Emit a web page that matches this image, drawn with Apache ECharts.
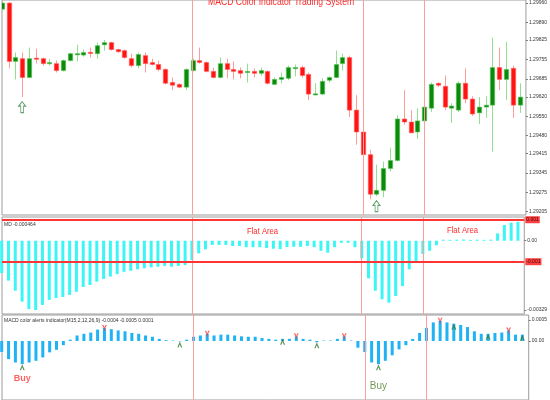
<!DOCTYPE html>
<html><head><meta charset="utf-8">
<script src="https://cdn.jsdelivr.net/npm/echarts@6/dist/echarts.min.js"></script>
<style>html,body{margin:0;padding:0;background:#fff}#c{width:550px;height:400px}</style>
</head><body><div id="c"></div>
<script>
// ---- Data (77 bars) ----
const opens = [1.29937,1.29959,1.29748,1.29758,1.29690,1.29760,1.29758,1.29740,1.29740,1.29715,
1.29751,1.29773,1.29771,1.29781,1.29776,1.29808,1.29816,1.29791,1.29787,1.29758,
1.29733,1.29769,1.29744,1.29737,1.29719,1.29672,1.29665,1.29655,1.29715,1.29751,
1.29744,1.29712,1.29690,1.29740,1.29719,1.29715,1.29708,1.29712,1.29705,1.29712,
1.29665,1.29683,1.29687,1.29723,1.29726,1.29701,1.29628,1.29630,1.29680,1.29690,
1.29740,1.29762,1.29572,1.29493,1.29411,1.29268,1.29282,1.29361,1.29390,1.29540,
1.29529,1.29493,1.29533,1.29579,1.29669,1.29658,1.29579,1.29572,1.29669,1.29612,
1.29562,1.29583,1.29590,1.29726,1.29683,1.29723,1.29590];
const closes = [1.29959,1.29748,1.29762,1.29690,1.29758,1.29757,1.29740,1.29744,1.29715,1.29751,
1.29776,1.29776,1.29780,1.29777,1.29805,1.29816,1.29791,1.29783,1.29762,1.29733,
1.29773,1.29740,1.29737,1.29719,1.29669,1.29662,1.29655,1.29719,1.29751,1.29744,
1.29712,1.29690,1.29740,1.29719,1.29712,1.29705,1.29712,1.29705,1.29715,1.29669,
1.29683,1.29690,1.29726,1.29726,1.29697,1.29630,1.29631,1.29676,1.29690,1.29737,
1.29762,1.29572,1.29493,1.29411,1.29268,1.29282,1.29361,1.29390,1.29540,1.29529,
1.29490,1.29533,1.29583,1.29665,1.29662,1.29583,1.29587,1.29669,1.29612,1.29558,
1.29583,1.29590,1.29726,1.29683,1.29719,1.29590,1.29619];
const highs = [1.29966,1.29962,1.29780,1.29780,1.29798,1.29794,1.29762,1.29758,1.29751,1.29755,
1.29780,1.29808,1.29791,1.29798,1.29816,1.29826,1.29819,1.29794,1.29791,1.29776,
1.29780,1.29780,1.29758,1.29751,1.29723,1.29690,1.29669,1.29723,1.29758,1.29798,
1.29748,1.29726,1.29762,1.29758,1.29748,1.29726,1.29740,1.29723,1.29726,1.29715,
1.29690,1.29708,1.29733,1.29737,1.29733,1.29708,1.29669,1.29687,1.29694,1.29787,
1.29776,1.29769,1.29626,1.29508,1.29429,1.29375,1.29386,1.29436,1.29554,1.29644,
1.29572,1.29579,1.29608,1.29672,1.29672,1.29697,1.29597,1.29676,1.29723,1.29622,
1.29619,1.29622,1.29834,1.29798,1.29819,1.29733,1.29669];
const lows = [1.29930,1.29723,1.29683,1.29619,1.29687,1.29740,1.29733,1.29733,1.29708,1.29712,
1.29748,1.29748,1.29765,1.29762,1.29758,1.29787,1.29787,1.29780,1.29758,1.29726,
1.29723,1.29708,1.29733,1.29712,1.29665,1.29644,1.29651,1.29644,1.29712,1.29740,
1.29708,1.29687,1.29687,1.29687,1.29683,1.29687,1.29672,1.29690,1.29697,1.29665,
1.29662,1.29669,1.29680,1.29694,1.29690,1.29608,1.29626,1.29626,1.29672,1.29687,
1.29715,1.29547,1.29447,1.29400,1.29250,1.29261,1.29257,1.29350,1.29386,1.29519,
1.29490,1.29468,1.29529,1.29565,1.29655,1.29572,1.29526,1.29565,1.29597,1.29551,
1.29522,1.29544,1.29422,1.29644,1.29608,1.29544,1.29562];
// MACD histogram panel (middle)
const mdValues = [-0.00154,-0.00190,-0.00238,-0.00290,-0.00325,-0.00330,-0.00306,-0.00282,-0.00273,-0.00268,
-0.00258,-0.00243,-0.00220,-0.00211,-0.00195,-0.00182,-0.00171,-0.00159,-0.00148,-0.00143,
-0.00136,-0.00131,-0.00127,-0.00124,-0.00120,-0.00124,-0.00120,-0.00116,-0.00092,-0.00060,
-0.00041,-0.00020,-0.00020,-0.00020,-0.00025,-0.00025,-0.00031,-0.00031,-0.00031,-0.00035,
-0.00038,-0.00040,-0.00030,-0.00029,-0.00029,-0.00025,-0.00031,-0.00048,-0.00057,-0.00031,
-0.00010,-0.00010,-0.00031,-0.00084,-0.00179,-0.00238,-0.00279,-0.00295,-0.00263,-0.00216,
-0.00136,-0.00105,-0.00063,-0.00048,-0.00022,0.00005,0.00004,0.00005,0.00006,0.00004,
0.00005,0.00004,0.00005,0.00035,0.00075,0.00086,0.00090];
// MACD color alerts panel (bottom)
const alertValues = [-0.00026,-0.00043,-0.00051,-0.00055,-0.00051,-0.00047,-0.00039,-0.00027,-0.00021,-0.00010,
0.00003,0.00013,0.00017,0.00020,0.00027,0.00031,0.00028,0.00025,0.00023,0.00019,
0.00017,0.00013,0.00010,0.00005,0.00002,0.00001,-0.00001,0.00003,0.00010,0.00013,
0.00017,0.00013,0.00015,0.00015,0.00013,0.00011,0.00010,0.00010,0.00007,0.00005,
0.00003,0.00005,0.00005,0.00011,0.00005,0.00003,-0.00003,0.00001,0.00001,0.00005,
0.00011,0.00001,-0.00016,-0.00026,-0.00051,-0.00055,-0.00047,-0.00034,-0.00020,-0.00010,
0.00005,0.00019,0.00031,0.00044,0.00048,0.00044,0.00041,0.00038,0.00033,0.00023,
0.00017,0.00017,0.00019,0.00020,0.00025,0.00015,0.00015];
const buyAlerts = [3,26,41,46,55,66,71,76];
const sellAlerts = [15,30,43,50,64,74];
const buyArrowBars = [3,55];
const buyTextBars = [3,55];
const signalBars = [28,53,62];
const mdLevels = [0.001,-0.001];
const mdLevelLabels = ['0.001','-0.001'];
const priceTicks = [1.29960,1.29890,1.29825,1.29755,1.29685,1.29620,1.29550,1.29480,1.29415,1.29345,1.29275,1.29205];
const mdTicks = [0, -0.00329];
const mdTickLabels = ['0.00','-0.00329'];
const alertTicks = [0.0005, 0];
const alertTickLabels = ['0.0005','00.00'];
const titleText = 'MACD Color Indicator Trading System';
const mdHeader = 'MD -0.000464';
const alertHeader = 'MACD color alerts indicator(M15,2,12,26,9) -0.0004 -0.0005 0.0001';

// ---- chart ----
const chart = echarts.init(document.getElementById('c'), null, {renderer:'canvas'});
const ohlc = opens.map((o,i)=>[i,o,closes[i],lows[i],highs[i]]);
const xMin = 0.044, xMax = 76.93;
const gridBase = {left:2, right:19, show:true, borderColor:'#9c9c9c', borderWidth:1, backgroundColor:'#fff'};
const axisFont = {fontSize:5, color:'#333', fontFamily:'Arial', margin:3};
const vline = {
  silent:true, symbol:'none', label:{show:false}, precision:6,
  lineStyle:{color:'#ff9c9c', width:1, type:'solid'},
  data: signalBars.map(b=>({xAxis:b}))
};
const xAx = idx => ({type:'value', gridIndex:idx, min:xMin, max:xMax, show:false});

const option = {
  animation:false,
  backgroundColor:'#fff',
  grid:[
    Object.assign({}, gridBase, {top:-1, height:216}),
    Object.assign({}, gridBase, {top:217, height:97}),
    Object.assign({}, gridBase, {top:315, height:87})
  ],
  xAxis:[xAx(0), xAx(1), xAx(2)],
  yAxis:[
    {type:'value', gridIndex:0, position:'right', min:1.29193, max:1.29970, splitLine:{show:false},
      axisLine:{show:false}, axisTick:{show:true, length:2, lineStyle:{color:'#777'}, customValues:priceTicks},
      axisLabel:Object.assign({customValues:priceTicks, formatter:v=>v.toFixed(5)}, axisFont)},
    {type:'value', gridIndex:1, position:'right', min:-0.00349, max:0.00113, splitLine:{show:false},
      axisLine:{show:false}, axisTick:{show:true, length:2, lineStyle:{color:'#777'}, customValues:mdTicks},
      axisLabel:Object.assign({customValues:mdTicks, formatter:v=>mdTickLabels[mdTicks.indexOf(v)] || ''}, axisFont)},
    {type:'value', gridIndex:2, position:'right', min:-0.00140, max:0.000616, splitLine:{show:false},
      axisLine:{show:false}, axisTick:{show:true, length:2, lineStyle:{color:'#777'}, customValues:alertTicks},
      axisLabel:Object.assign({customValues:alertTicks, formatter:v=>alertTickLabels[alertTicks.indexOf(v)] || ''}, axisFont)}
  ],
  series:[
    {type:'custom', xAxisIndex:0, yAxisIndex:0, clip:true, data:ohlc,
      encode:{x:0, y:[1,2,3,4]},
      renderItem:function(params, api){
        const i=api.value(0), o=api.value(1), c=api.value(2), l=api.value(3), h=api.value(4);
        const pO=api.coord([i,o]), pC=api.coord([i,c]), pL=api.coord([i,l]), pH=api.coord([i,h]);
        const w=api.size([1,0])[0]*0.64;
        const up=c>=o;
        const top=Math.min(pO[1],pC[1]), bot=Math.max(pO[1],pC[1]);
        const x=Math.round(pO[0])+0.5;
        return {type:'group', children:[
          {type:'line', shape:{x1:x,y1:pH[1],x2:x,y2:pL[1]}, style:{stroke: up?'#8fe08f':'#ff9b9b', lineWidth:1}},
          {type:'rect', shape:{x:x-w/2, y:top, width:w, height:Math.max(bot-top,1.2)},
            style:{fill: up?'#0b8a0b':'#ff1414', stroke: up?'#56c456':'#ff5a5a', lineWidth:0.6}}
        ]};
      },
      markLine:vline
    },
    {type:'scatter', xAxisIndex:0, yAxisIndex:0,
      data: buyArrowBars.map(b=>[b, lows[b]]),
      symbol:'path://M5,0 L10,5 L7,5 L7,12 L3,12 L3,5 L0,5 Z', symbolSize:[7,11], symbolOffset:[0,10],
      itemStyle:{color:'#ffffff', borderColor:'#3a8a4a', borderWidth:1}},
    {type:'bar', xAxisIndex:1, yAxisIndex:1, data:mdValues.map((v,i)=>[i,v]), barWidth:3,
      itemStyle:{color:'#3cf6f6'},
      markLine:{silent:true, symbol:'none', precision:6,
        lineStyle:{color:'#ff9c9c', width:1, type:'solid'},
        label:{show:false},
        data: signalBars.map(b=>({xAxis:b}))}
    },
    {type:'scatter', xAxisIndex:1, yAxisIndex:1, data:[], z:4,
      markLine:{silent:true, symbol:'none', precision:6,
        lineStyle:{color:'#ff3434', width:2, type:'solid'},
        label:{show:true, position:'end', distance:1, fontSize:5, fontFamily:'Arial', color:'#400',
          backgroundColor:'#ff4040', padding:[1,1], formatter:p=>mdLevelLabels[p.dataIndex]},
        data: mdLevels.map(v=>({yAxis:v}))}
    },
    {type:'bar', xAxisIndex:2, yAxisIndex:2, data:alertValues.map((v,i)=>[i,v]), barWidth:3,
      itemStyle:{color:'#1fb2f5'}, markLine:vline},
    {type:'scatter', xAxisIndex:2, yAxisIndex:2, z:5,
      data: buyAlerts.map(b=>[b, alertValues[b]]),
      symbol:'path://M5,0 L10,10 L7.5,10 L5,5 L2.5,10 L0,10 Z', symbolSize:[5,6], symbolOffset:[0,3],
      itemStyle:{color:'#2f7a2f'}},
    {type:'scatter', xAxisIndex:2, yAxisIndex:2, z:5,
      data: sellAlerts.map(b=>[b, alertValues[b]]),
      symbol:'path://M0,0 L3,0 L5,4 L7,0 L10,0 L6,6 L6,10 L4,10 L4,6 Z', symbolSize:[5,6], symbolOffset:[0,0],
      itemStyle:{color:'#ff3838'}},
    {type:'scatter', xAxisIndex:2, yAxisIndex:2, symbolSize:0,
      data: buyTextBars.map((b,k)=>({value:[b, alertValues[b]],
        label:{show:true, formatter:'Buy', position:'bottom', distance: k===0?10:17,
          color: k===0?'#ff3a3a':'#4d7f2a', fontSize: k===0?9:10, fontWeight: k===0?'bold':'normal', fontFamily:'Arial'}}))}
  ],
  graphic:[
    {type:'text', x:208, y:-3, scaleX:0.82, style:{text:titleText, fill:'#ff2a2a', font:'10.5px Arial'}},
    {type:'text', left:4, top:222, style:{text:mdHeader, fill:'#333', font:'5px Arial'}},
    {type:'text', left:4, top:318, style:{text:alertHeader, fill:'#333', font:'5px Arial'}},
    {type:'text', x:247, y:227, scaleX:0.85, style:{text:'Flat Area', fill:'#ff2a2a', font:'9px Arial'}},
    {type:'text', x:447, y:226, scaleX:0.85, style:{text:'Flat Area', fill:'#ff2a2a', font:'9px Arial'}}
  ]
};
chart.setOption(option);
</script></body></html>
